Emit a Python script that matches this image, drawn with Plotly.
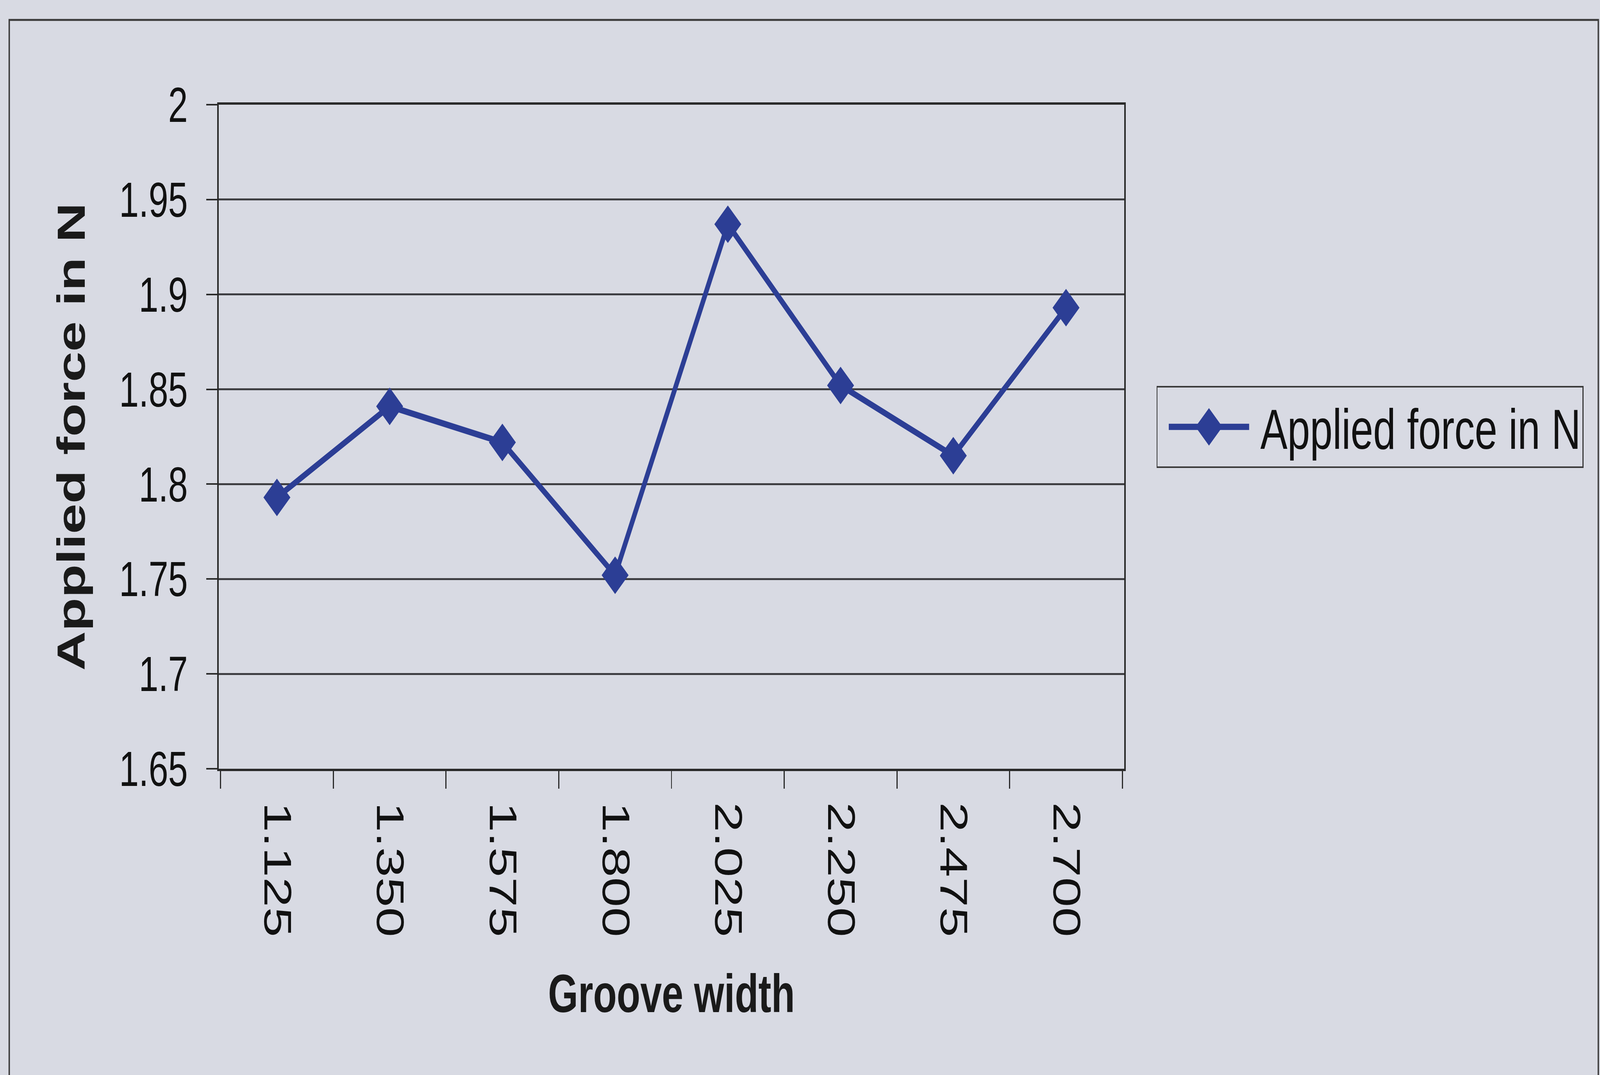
import plotly.graph_objects as go

# ---- data ----
groove_width = ["1.125", "1.350", "1.575", "1.800", "2.025", "2.250", "2.475", "2.700"]
applied_force = [1.793, 1.841, 1.822, 1.752, 1.937, 1.852, 1.815, 1.893]
y_tick_vals = [1.65, 1.70, 1.75, 1.80, 1.85, 1.90, 1.95, 2.00]
y_tick_text = ["1.65", "1.7", "1.75", "1.8", "1.85", "1.9", "1.95", "2"]
series_name = "Applied force in N"

# ---- styling ----
W, H = 5714, 2752
PLOT_L, PLOT_R, PLOT_T, PLOT_B = 781, 4015, 268, 1968
BG = "#d8dae3"
BLUE = "#2c3e95"
FONT = "Liberation Sans, Arial, sans-serif"
LEGEND_ITEM_W = 357
LEGEND_LINE_LEN = 287

def px_to_paper_x(px):
    return (px - PLOT_L) / (PLOT_R - PLOT_L)

def px_to_paper_y(py):
    return (PLOT_B - py) / (PLOT_B - PLOT_T)

fig = go.Figure()
fig.add_trace(go.Scatter(
    x=groove_width, y=applied_force, name=series_name,
    mode="lines+markers",
    line=dict(color=BLUE, width=16),
    marker=dict(symbol="diamond", size=74, color=BLUE),
    showlegend=True,
))

fig.update_layout(
    width=W, height=H,
    margin=dict(l=PLOT_L, r=W - PLOT_R, t=PLOT_T, b=H - PLOT_B, autoexpand=False),
    paper_bgcolor=BG, plot_bgcolor=BG,
    font=dict(family=FONT, color="#111111", size=126),
    showlegend=True,
    legend=dict(
        x=px_to_paper_x(4130), y=px_to_paper_y(988), xanchor="left", yanchor="top",
        bgcolor=BG, bordercolor="#3a3a3a", borderwidth=4,
        font=dict(family=FONT, size=145, color="#111111"),
        itemwidth=LEGEND_ITEM_W,
    ),
    xaxis=dict(
        type="category",
        title=dict(text="Groove width", font=dict(family=FONT, size=138, weight="bold", color="#1a1a1a"), standoff=98),
        tickangle=90,
        ticks="outside", ticklen=45, tickwidth=4, tickcolor="#2a2a2a",
        tickson="boundaries",
        ticklabelstandoff=52,
        tickfont=dict(family=FONT, size=138, color="#111111"),
        showgrid=False,
        showline=True, linecolor="#2a2a2a", linewidth=6,
        mirror=True,
        zeroline=False,
        automargin=False,
    ),
    yaxis=dict(
        range=[1.65, 2.0],
        tickmode="array", tickvals=y_tick_vals, ticktext=y_tick_text,
        title=dict(text=series_name, font=dict(family=FONT, size=140, weight="bold", color="#1a1a1a"), standoff=76),
        ticks="outside", ticklen=40, tickwidth=4, tickcolor="#2a2a2a",
        ticklabelstandoff=40,
        tickfont=dict(family=FONT, size=126, color="#111111"),
        showgrid=True, gridcolor="#3e3e42", gridwidth=5,
        showline=True, linecolor="#2a2a2a", linewidth=5,
        mirror=True,
        zeroline=False,
        automargin=False,
    ),
    shapes=[dict(
        type="rect", xref="paper", yref="paper",
        x0=px_to_paper_x(33), x1=px_to_paper_x(5708),
        y0=px_to_paper_y(2900), y1=px_to_paper_y(51),
        line=dict(color="#3a3a3a", width=5), fillcolor="rgba(0,0,0,0)", layer="below",
    )],
)

# Fit the whole figure into the actual browser viewport (which may be narrower
# than the requested size) and draw the legend key at the size of the plotted marks.
post_js = """
(function(){
  var gd = document.getElementById('{plot_id}');
  var de = document.documentElement, bd = document.body;
  de.style.margin = '0'; bd.style.margin = '0';
  de.style.overflow = 'hidden'; bd.style.overflow = 'hidden';
  var fw = gd._fullLayout.width, fh = gd._fullLayout.height;
  var sx = Math.min(1, window.innerWidth / fw), sy = Math.min(1, window.innerHeight / fh);
  gd.style.transformOrigin = '0 0';
  gd.style.transform = 'scale(' + sx + ',' + sy + ')';

  var lineLen = __LINE_LEN__;
  var iw = gd._fullLayout.legend.itemwidth;
  var cx = (iw + 10) / 2;
  var plotLine = gd.querySelector('g.scatterlayer path.js-line');
  var plotPt = gd.querySelector('g.scatterlayer path.point');
  var lw = plotLine ? window.getComputedStyle(plotLine).strokeWidth : null;
  var ptH = plotPt ? plotPt.getBBox().height : null;
  gd.querySelectorAll('g.legend g.legendlines path').forEach(function(p){
    p.setAttribute('d', 'M' + (cx - lineLen / 2) + ',0h' + lineLen);
    if (lw) { p.style.strokeWidth = lw; }
  });
  gd.querySelectorAll('g.legend g.legendpoints path.scatterpts').forEach(function(p){
    var h = p.getBBox().height;
    var k = (ptH && h) ? ptH / h : 1;
    p.setAttribute('transform', 'translate(' + cx + ',0) scale(' + k + ')');
  });
})();
""".replace("__LINE_LEN__", str(LEGEND_LINE_LEN))

fig.write_html("out.html", post_script=post_js, config={"displayModeBar": False})
